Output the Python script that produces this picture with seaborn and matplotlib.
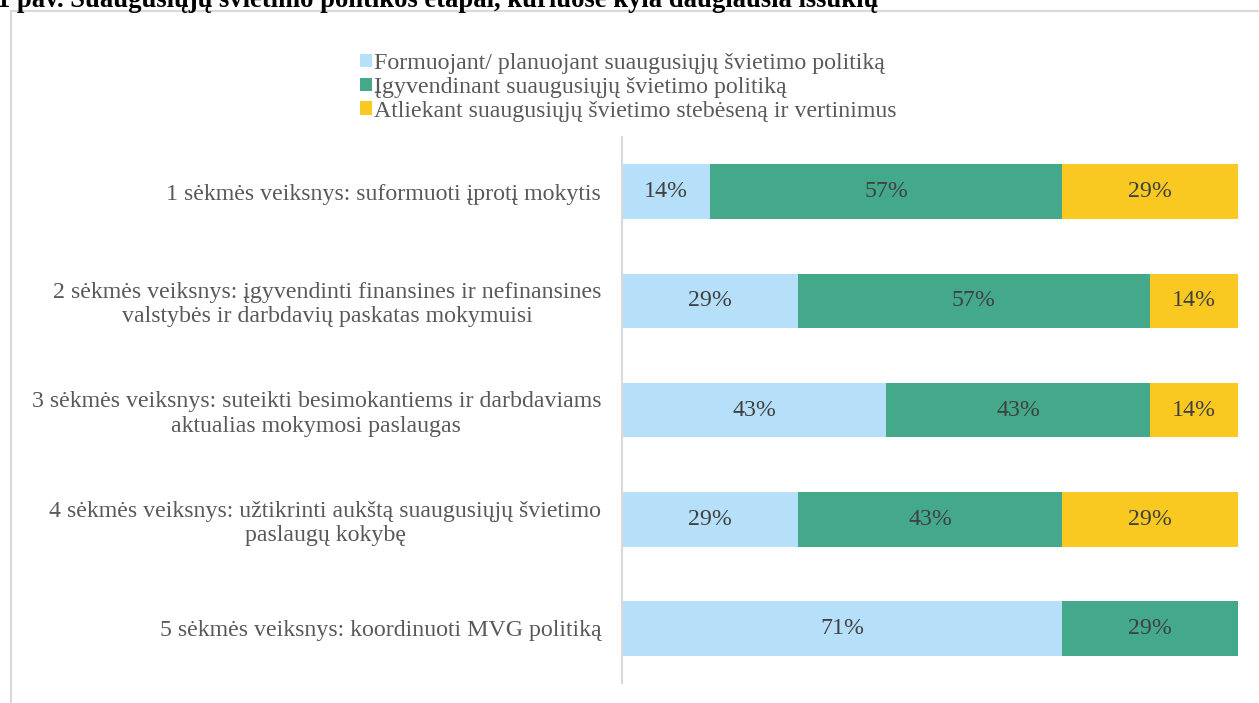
import numpy as np
import matplotlib.pyplot as plt
import pandas as pd
import seaborn as sns
from matplotlib.patches import Patch, Rectangle

# data (percent of respondents, 7 answers -> sevenths)
factors = [
    '1 sėkmės veiksnys: suformuoti įprotį mokytis',
    '2 sėkmės veiksnys: įgyvendinti finansines ir nefinansines\nvalstybės ir darbdavių paskatas mokymuisi',
    '3 sėkmės veiksnys: suteikti besimokantiems ir darbdaviams\naktualias mokymosi paslaugas',
    '4 sėkmės veiksnys: užtikrinti aukštą suaugusiųjų švietimo\npaslaugų kokybę',
    '5 sėkmės veiksnys: koordinuoti MVG politiką',
]
series_names = [
    'Formuojant/ planuojant suaugusiųjų švietimo politiką',
    'Įgyvendinant suaugusiųjų švietimo politiką',
    'Atliekant suaugusiųjų švietimo stebėseną ir vertinimus',
]
formuojant = [14.29, 28.57, 42.86, 28.57, 71.43]
igyvendinant = [57.14, 57.14, 42.86, 42.86, 28.57]
stebesena = [28.57, 14.29, 14.29, 28.57, 0]
colors = ['#B6E0FA', '#43A98A', '#F9C922']
title = '1 pav. Suaugusiųjų švietimo politikos etapai, kuriuose kyla daugiausia iššūkių'

sns.set_style('white')
plt.rcParams['font.family'] = ['Liberation Serif', 'DejaVu Serif']

df = pd.DataFrame({'factor': factors, 's1': formuojant, 's2': igyvendinant, 's3': stebesena})
df['c1'] = df['s1']
df['c2'] = df['s1'] + df['s2']
df['c3'] = df['c2'] + df['s3']

fig = plt.figure(figsize=(12.59, 7.03), dpi=100)
ax = fig.add_axes([622/1259, 1 - 683/703, (1238 - 622)/1259, (683 - 137)/703])

# stacked bars: draw cumulative totals from back to front
for col, c in zip(['c3', 'c2', 'c1'], colors[::-1]):
    sns.barplot(data=df, x=col, y='factor', orient='h', color=c, width=0.5,
                saturation=1, ax=ax, linewidth=0)

# labels in the middle of each segment
for i, row in df.iterrows():
    starts = [0, row['c1'], row['c2']]
    for start, v in zip(starts, [row['s1'], row['s2'], row['s3']]):
        if v > 0:
            ax.text(start + v / 2, i, f'{v:.0f}%', ha='center', va='center',
                    fontsize=17.2, color='#404040')

ax.set_xlim(0, 100)
ax.set_ylim(4.5, -0.5)
ax.set_xlabel('')
ax.set_ylabel('')
ax.set_xticks([])
ax.tick_params(axis='y', length=0, pad=15, labelsize=17.2, labelcolor='#595959')
for lab in ax.get_yticklabels():
    lab.set_multialignment('center')
for s in ['top', 'right', 'bottom']:
    ax.spines[s].set_visible(False)
ax.spines['left'].set_color('#D9D9D9')
ax.spines['left'].set_linewidth(1.5)

handles = [Patch(facecolor=c, edgecolor='none') for c in colors]
fig.legend(handles, series_names, loc='upper left', bbox_to_anchor=(360/1259, 1 - 53/703),
           frameon=False, fontsize=17.2, labelcolor='#595959', handlelength=0.5,
           handleheight=0.5, handletextpad=0.1, labelspacing=0.12, borderaxespad=0,
           borderpad=0)

# chart frame and cut-off caption
fig.patches.append(Rectangle((11/1259, -0.1), 1.2, 1 - 11/703 + 0.1, transform=fig.transFigure,
                             fill=False, edgecolor='#D9D9D9', linewidth=1.5))
fig.text(-3/1259, 1 - 7/703, title, ha='left', va='baseline', fontsize=19.2,
         fontweight='bold', color='black')

fig.savefig('out.png', dpi=100)
